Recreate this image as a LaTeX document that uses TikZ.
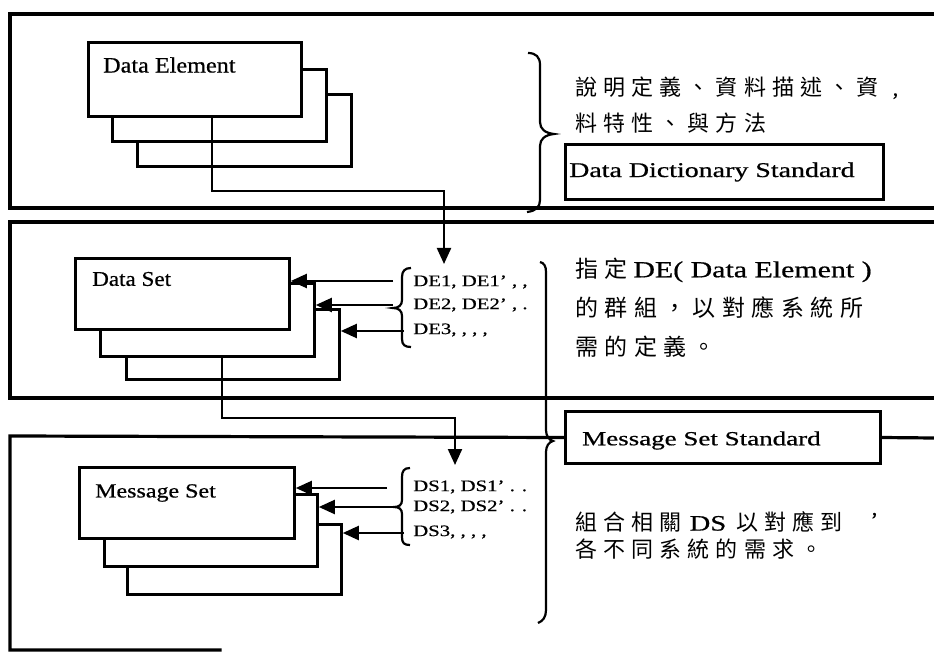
\documentclass[tikz,border=0pt]{standalone}
\usepackage{fontspec}
\setmainfont{Liberation Serif}[FakeBold=0.6]
\newfontfamily\cjk[LetterSpace=28]{Noto Sans CJK TC}
\usepackage{graphicx}
\usetikzlibrary{arrows.meta,calc}
\newcommand\sx[2]{\scalebox{#1}[1]{#2}}
\newcommand\fsz[1]{\fontsize{#1}{#1}\selectfont}
\tikzset{
  frame/.style={line width=3.2pt, line cap=rect},
  stackbox/.style={draw, line width=2.8pt, fill=white, anchor=north west, inner sep=0pt},
  stdbox/.style={draw, line width=3pt, fill=white, anchor=north west, inner sep=0pt},
  conn/.style={line width=2.2pt},
  arr/.style={conn, -{Triangle[length=16pt,width=14pt]}},
  brc/.style={line width=2.2pt},
  lbl/.style={inner sep=0pt, anchor=west},
}
\begin{document}
\begin{tikzpicture}[x=1pt,y=-1pt]
\useasboundingbox (0,0) rectangle (934,652);

% panels
\draw[frame] (934,14) -- (10,14) -- (10,208) -- (934,208);
\draw[frame] (934,222) -- (10,222) -- (10,398) -- (934,398);

% standard boxes
\node[stdbox, minimum width=318pt, minimum height=55pt] (dds) at (564,143) {};
\node[lbl] (ddsL) at ([xshift=5pt]dds.west) {\fsz{21}\sx{1.33}{Data Dictionary Standard}};
\node[stdbox, minimum width=315pt, minimum height=52pt] (mss) at (564,410) {};
\node[lbl] (mssL) at ([xshift=18pt,yshift=-3pt]mss.west) {\fsz{20}\sx{1.35}{Message Set Standard}};

\draw[frame] (220,650) -- (10,650) -- (10,436) -- (mss.west);
\draw[frame] (mss.east) -- (934,438);

% Data Element stack
\node[stackbox, minimum width=214pt, minimum height=72pt] (el3) at (136,93) {};
\node[stackbox, minimum width=214pt, minimum height=72pt] (el2) at (111,68) {};
\node[stackbox, minimum width=213pt, minimum height=74pt] (el1) at (87,41) {};
\node[lbl] (elL) at (103,65) {\fsz{22}\sx{1.1}{Data Element}};

% Data Set stack
\node[stackbox, minimum width=213pt, minimum height=70pt] (set3) at (125,308) {};
\node[stackbox, minimum width=214pt, minimum height=73pt] (set2) at (99,282) {};
\node[stackbox, minimum width=214pt, minimum height=71pt] (set1) at (74,257) {};
\node[lbl] (setL) at (92,279) {\fsz{21}\sx{1.1}{Data Set}};

% Message Set stack
\node[stackbox, minimum width=214pt, minimum height=70pt] (msg3) at (126,523) {};
\node[stackbox, minimum width=213pt, minimum height=72pt] (msg2) at (103,493) {};
\node[stackbox, minimum width=215pt, minimum height=71pt] (msg1) at (78,466) {};
\node[lbl] (msgL) at (95,493) {\fsz{20}\sx{1.2}{Message Set}};

% connectors between stacks
\coordinate (j1) at (444,191);
\coordinate (tip1) at (444,264);
\draw[arr] ([xshift=125pt]el1.south west) |- (j1) -- (tip1);
\coordinate (j2) at (455,418);
\coordinate (tip2) at (455,465);
\draw[arr] ([xshift=123pt]set2.south west) |- (j2) -- (tip2);

% DE list
\node[lbl] (de1) at (413,282) {\fsz{16}\sx{1.3}{DE1, DE1’ , ,}};
\node[lbl] (de2) at (413,305) {\fsz{16}\sx{1.3}{DE2, DE2’ , .}};
\node[lbl] (de3) at (413,330) {\fsz{16}\sx{1.3}{DE3, , , ,}};
\draw[brc] (411,268) .. controls (405,268) and (402,271) .. (402,277) -- (402,300)
  .. controls (402,305) and (399,308) .. (393,308) .. controls (399,308) and (402,311) .. (402,316)
  -- (402,339) .. controls (402,345) and (405,347) .. (411,347);
\coordinate (a1) at (393,281);
\coordinate (a2) at (393,305);
\coordinate (a3) at (404,331);
\draw[arr] (a1) -- (set1.east |- a1);
\draw[arr] (a2) -- (set2.east |- a2);
\draw[arr] (a3) -- (set3.east |- a3);

% DS list
\node[lbl] (ds1) at (413,487) {\fsz{16}\sx{1.3}{DS1, DS1’ . .}};
\node[lbl] (ds2) at (413,507) {\fsz{16}\sx{1.3}{DS2, DS2’ . .}};
\node[lbl] (ds3) at (413,532) {\fsz{16}\sx{1.3}{DS3, , , ,}};
\draw[brc] (410,468) .. controls (404,468) and (402,471) .. (402,477) -- (402,500)
  .. controls (402,505) and (399,507) .. (394,507) .. controls (399,507) and (402,509) .. (402,514)
  -- (402,537) .. controls (402,543) and (404,545) .. (410,545);
\coordinate (b1) at (387,488);
\coordinate (b2) at (394,507);
\coordinate (b3) at (404,533);
\draw[arr] (b1) -- (msg1.east |- b1);
\draw[arr] (b2) -- (msg2.east |- b2);
\draw[arr] (b3) -- (msg3.east |- b3);

% right braces
\draw[brc] (528,53) .. controls (536,53) and (540,57) .. (540,65) -- (540,122)
  .. controls (540,129) and (545,133) .. (554,134) .. controls (545,135) and (540,139) .. (540,146)
  -- (540,200) .. controls (540,207) and (536,211) .. (527,212);
\draw[brc] (540,262) .. controls (544,263) and (546,266) .. (546,272) -- (546,430)
  .. controls (546,436) and (549,440) .. (553,441) .. controls (549,442) and (546,446) .. (546,452)
  -- (546,610) .. controls (546,617) and (543,621) .. (538,623);

% descriptive texts
\node[lbl] (t1) at (575,88) {\fsz{22}{\cjk 說明定義、資料描述、資}\hspace{14pt},};
\node[lbl] (t2) at (575,123) {\fsz{22}\cjk 料特性、與方法};
\node[lbl] (m1) at (575,270) {\fsz{23}{\cjk 指定} \sx{1.3}{DE( Data Element )}};
\node[lbl] (m2) at (575,308) {\fsz{23}\cjk 的群組，以對應系統所};
\node[lbl] (m3) at (575,347) {\fsz{23}\cjk 需的定義。};
\node[lbl] (b1t) at (575,522) {\fsz{22}{\cjk 組合相關}\hspace{8pt}\sx{1.3}{DS}\hspace{10pt}{\cjk 以對應到}\hspace{28pt}\raisebox{3pt}{'}};
\node[lbl] (b2t) at (575,549) {\fsz{22}\cjk 各不同系統的需求。};
\end{tikzpicture}
\end{document}
